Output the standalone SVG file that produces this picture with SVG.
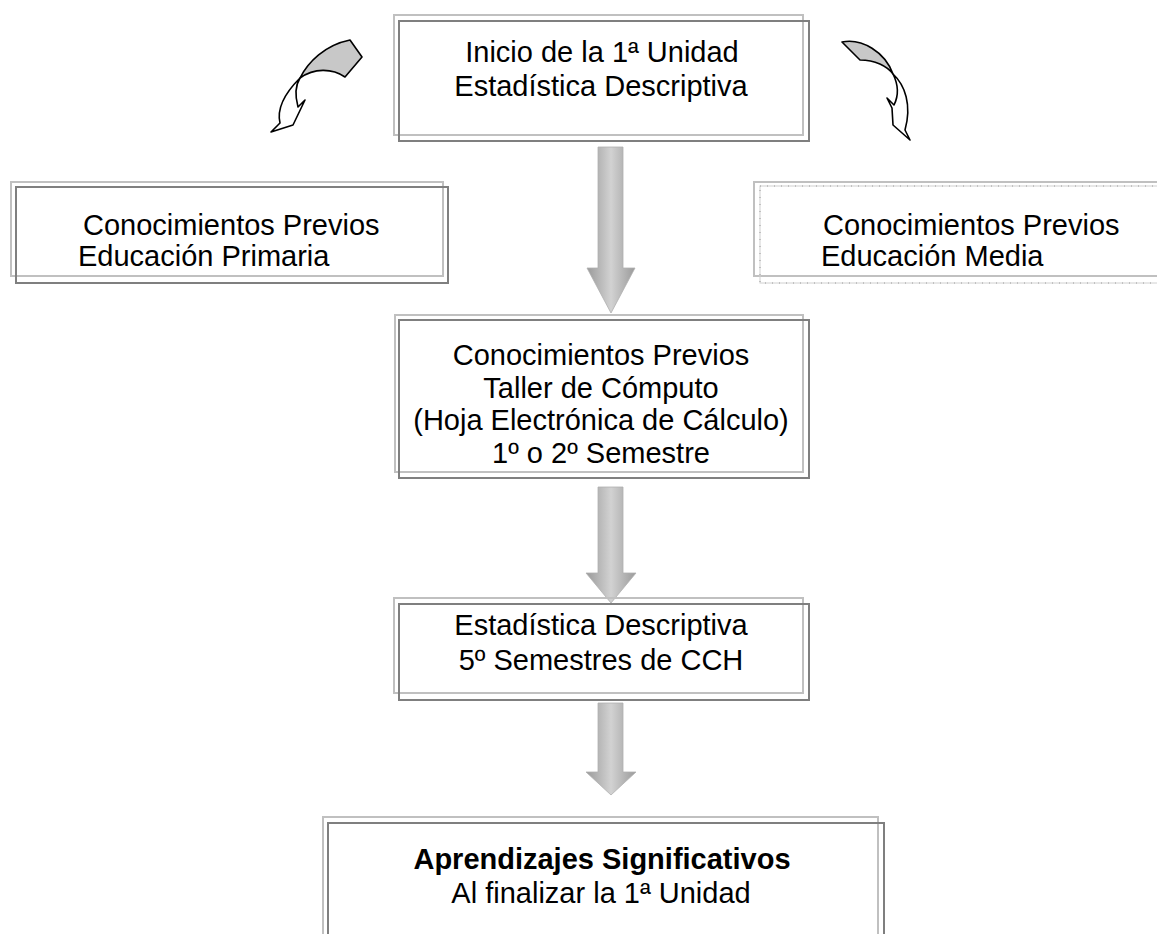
<svg xmlns="http://www.w3.org/2000/svg" width="1157" height="934" viewBox="0 0 1157 934">
<defs>
<linearGradient id="g" x1="0" y1="0" x2="1" y2="0">
<stop offset="0" stop-color="#9a9a9a"/>
<stop offset="0.5" stop-color="#d2d2d2"/>
<stop offset="1" stop-color="#9a9a9a"/>
</linearGradient>
<style>
.lt{fill:none;stroke:#c0c0c0;stroke-width:2}
.dk{fill:none;stroke:#7f7f7f;stroke-width:2}
.dt{fill:none;stroke:#9a9a9a;stroke-width:1;stroke-dasharray:1 6}
.tx{font-family:"Liberation Sans",Arial,sans-serif;font-size:29px;fill:#000}
.c{text-anchor:middle}
.b{font-weight:bold}
.fr{fill:#fff;stroke:#000;stroke-width:1.6;stroke-linejoin:round}
.gy{fill:#c8c8c8;stroke:#000;stroke-width:1.6;stroke-linejoin:round}
.ar{fill:url(#g);stroke:#b0b0b0;stroke-width:0.8}
</style>
</defs>
<rect width="1157" height="934" fill="#fff"/>
<g id="connectors">
<polygon class="ar" points="598,147 623,147 623,268 635,268 611,313 587,268 598,268"/>
<polygon class="ar" points="598,487 623,487 623,573 636,573 611,603 586,573 598,573"/>
<polygon class="ar" points="598,703 623,703 623,772 636,772 611,795 586,772 598,772"/>
<g id="curved-left">
<path class="gy" d="M300,78 C308,62 325,45 350,40 L362,57 L345,77 C332,68 314,68 300,78 Z"/>
<path class="fr" d="M300,78 C288,90 276,106 280,123 L271,132 L293,125 L305,100 L298,107 C295,96 295,86 300,78 Z"/>
</g>
<g id="curved-right">
<path class="gy" d="M893,74 C885,52 862,38 842,42 L860,60 C875,60 887,66 893,74 Z"/>
<path class="fr" d="M893,74 C905,85 912,105 905,130 L910,140 L893,125 L892,108 L887,98 L894,105 C899,95 898,84 893,74 Z"/>
</g>
</g>
<g id="n-inicio">
<rect class="lt" x="394" y="15" width="409" height="120"/>
<rect class="dk" x="399" y="21" width="410" height="120"/>
<text class="tx c" x="602" y="62">Inicio de la 1ª Unidad</text>
<text class="tx c" x="601" y="96">Estadística Descriptiva</text>
</g>
<g id="n-primaria">
<rect class="lt" x="11" y="182" width="432" height="94"/>
<rect class="dk" x="16" y="187" width="432" height="96"/>
<text class="tx" x="83" y="235">Conocimientos Previos</text>
<text class="tx" x="78" y="266">Educación Primaria</text>
</g>
<g id="n-media">
<rect class="lt" x="754" y="182" width="420" height="94"/>
<rect fill="none" stroke="#d0d0d0" stroke-width="1" x="760" y="186" width="420" height="97"/>
<rect class="dt" x="760" y="186" width="420" height="97"/>
<text class="tx" x="823" y="235">Conocimientos Previos</text>
<text class="tx" x="821" y="266">Educación Media</text>
</g>
<g id="n-taller">
<rect class="lt" x="395" y="315" width="408" height="157"/>
<rect class="dk" x="399" y="320" width="410" height="158"/>
<text class="tx c" x="601" y="365">Conocimientos Previos</text>
<text class="tx c" x="601" y="398">Taller de Cómputo</text>
<text class="tx c" x="601" y="430">(Hoja Electrónica de Cálculo)</text>
<text class="tx c" x="601" y="463">1º o 2º Semestre</text>
</g>
<g id="n-estadistica">
<rect class="lt" x="394" y="598" width="409" height="95"/>
<rect class="dk" x="399" y="604" width="410" height="96"/>
<text class="tx c" x="601" y="635">Estadística Descriptiva</text>
<text class="tx c" x="601" y="670">5º Semestres de CCH</text>
</g>
<g id="n-aprendizajes">
<rect class="lt" x="323" y="817" width="555" height="140"/>
<rect class="dk" x="328" y="823" width="556" height="140"/>
<text class="tx c b" x="602" y="869">Aprendizajes Significativos</text>
<text class="tx c" x="601" y="903">Al finalizar la 1ª Unidad</text>
</g>
</svg>
